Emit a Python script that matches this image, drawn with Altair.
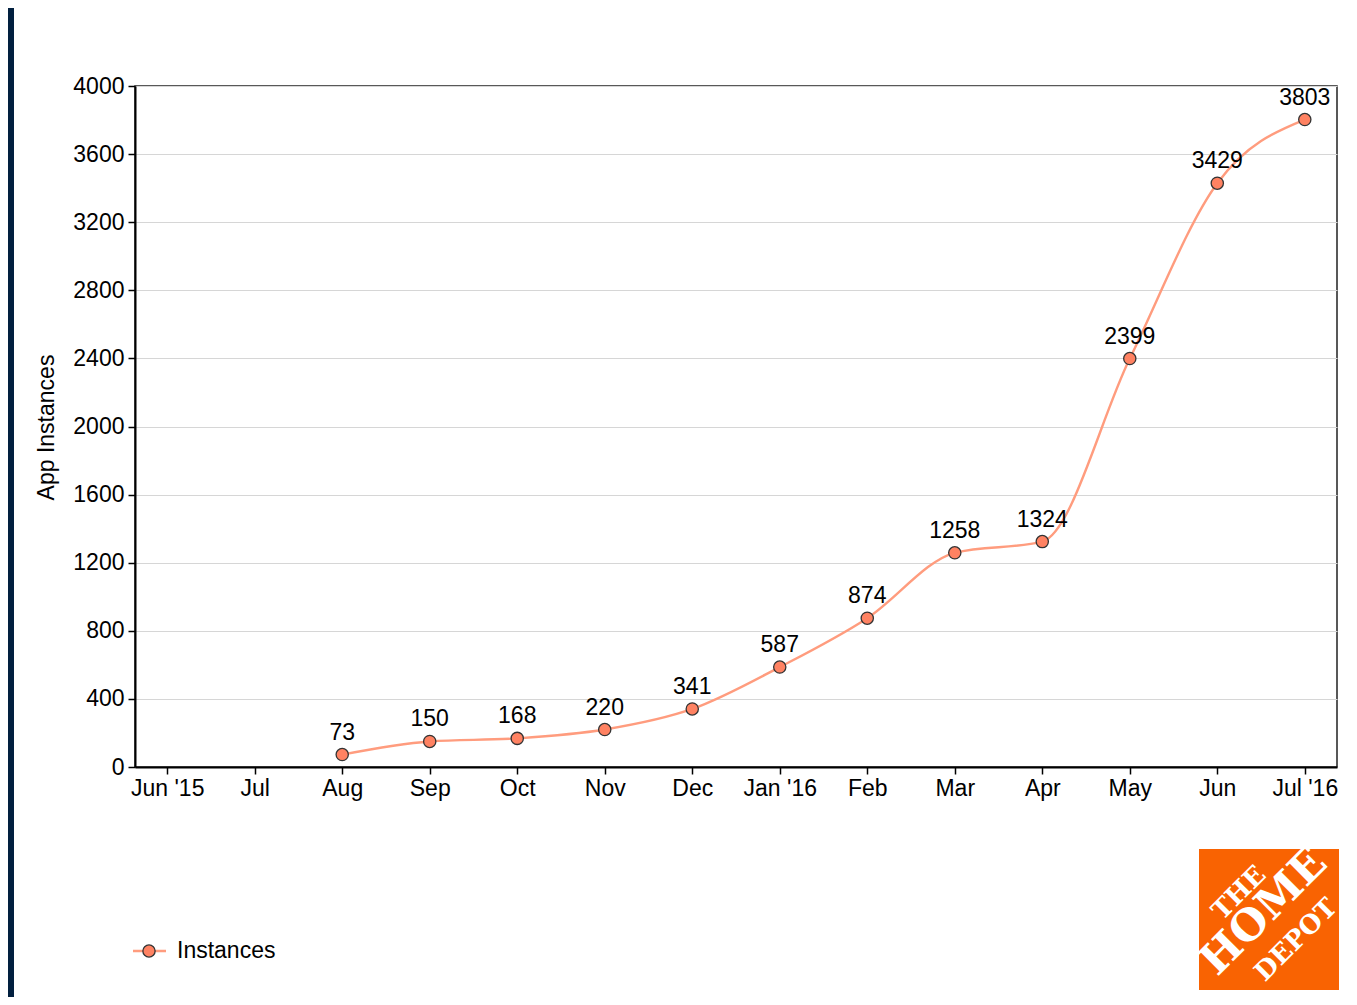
import altair as alt
import pandas as pd

months = ["Jun '15", "Jul", "Aug", "Sep", "Oct", "Nov", "Dec", "Jan '16",
          "Feb", "Mar", "Apr", "May", "Jun", "Jul '16"]
data_months = ["Aug", "Sep", "Oct", "Nov", "Dec", "Jan '16",
               "Feb", "Mar", "Apr", "May", "Jun", "Jul '16"]
instances = [73, 150, 168, 220, 341, 587, 874, 1258, 1324, 2399, 3429, 3803]
y_ticks = list(range(0, 4001, 400))
series_name = ["Instances"]

df = pd.DataFrame({"month": data_months, "value": instances})

FONT = "Liberation Sans"
LINE = "#ff9c7e"
FILL = "#ff8262"
FS = 23

x_enc = alt.X("month:N", sort=months,
              scale=alt.Scale(type="point", domain=months, padding=0.368),
              axis=alt.Axis(title=None, labelAngle=0, labelFontSize=FS, labelFont=FONT,
                            labelColor="black", domainColor="black", domainWidth=2,
                            tickColor="black", tickWidth=1.5, tickSize=7, labelPadding=3,
                            grid=False))
y_enc = alt.Y("value:Q",
              scale=alt.Scale(domain=[0, 4000], nice=False),
              axis=alt.Axis(title="App Instances", values=y_ticks, format="d",
                            labelFontSize=FS,
                            labelFont=FONT, labelColor="black", domainColor="black",
                            domainWidth=2, tickColor="black", tickWidth=1.5, tickSize=7,
                            labelPadding=4, grid=True, gridColor="#d6d6d6", gridWidth=1,
                            titleFontSize=FS, titleFont=FONT, titleFontWeight="normal",
                            titleColor="black", titleX=-89, titleY=341, titleAngle=270,
                            titleAlign="center", titleBaseline="middle"))

base = alt.Chart(df).encode(x=x_enc, y=y_enc)

line = base.mark_line(color=LINE, strokeWidth=2.4, interpolate="monotone")
pts = base.mark_point(filled=True, size=150, fill=FILL, stroke="#333333",
                      strokeWidth=1.3, opacity=1)
labels = base.mark_text(dy=-22, fontSize=FS, font=FONT, color="black").encode(
    text=alt.Text("value:Q", format="d"))

leg = alt.Chart(pd.DataFrame({"name": series_name}))
leg_line = leg.mark_rule(color=LINE, strokeWidth=2.4).encode(
    x=alt.value(-2), x2=alt.value(31), y=alt.value(865))
leg_pt = leg.mark_point(filled=True, size=150, fill=FILL, stroke="#333333",
                        strokeWidth=1.3, opacity=1).encode(x=alt.value(14), y=alt.value(865))
leg_txt = leg.mark_text(align="left", baseline="middle", fontSize=FS, font=FONT,
                        color="black").encode(x=alt.value(42), y=alt.value(865),
                                              text="name:N")

# decorative frame strip and logo
strip = leg.mark_rect(color="#02203f").encode(
    x=alt.value(-127), x2=alt.value(-121), y=alt.value(-78), y2=alt.value(911))
logo = leg.mark_rect(color="#f96302").encode(
    x=alt.value(1064), x2=alt.value(1204), y=alt.value(763), y2=alt.value(904))
logo_the = leg.mark_text(text="THE", angle=315, fontSize=26, font="DejaVu Serif",
                         fontWeight="bold", color="white", align="center",
                         baseline="middle").encode(x=alt.value(1104), y=alt.value(807))
logo_home = leg.mark_text(text="HOME", angle=315, fontSize=43, font="DejaVu Serif",
                          fontWeight="bold", color="white", align="center",
                          baseline="middle").encode(x=alt.value(1129), y=alt.value(826))
logo_depot = leg.mark_text(text="DEPOT", angle=315, fontSize=26, font="DejaVu Serif",
                           fontWeight="bold", color="white", align="center",
                           baseline="middle").encode(x=alt.value(1161), y=alt.value(854))

chart = alt.layer(line, pts, labels, leg_line, leg_pt, leg_txt,
                  strip, logo, logo_the, logo_home, logo_depot).properties(
    width=1202, height=681,
    autosize=alt.AutoSizeParams(type="none"),
    padding={"left": 127, "top": 78, "right": 12, "bottom": 230},
    background="white",
).configure_view(stroke="#222222", strokeWidth=1.5)

chart.save("out.html", embed_options={"renderer": "svg", "actions": False})
